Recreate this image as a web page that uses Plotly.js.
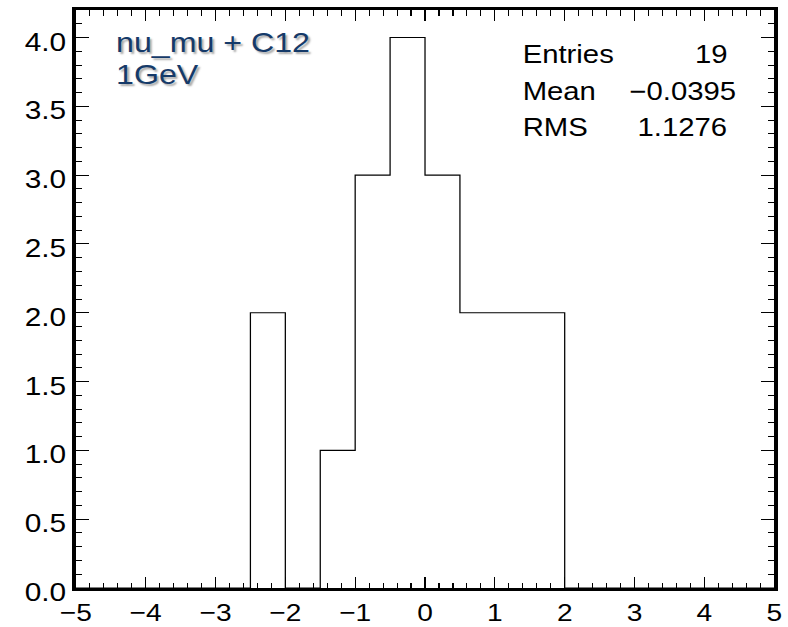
<!DOCTYPE html>
<html>
<head>
<meta charset="utf-8">
<script src="https://cdn.plot.ly/plotly-3.0.1.min.js"></script>
<style>
  html, body { margin: 0; padding: 0; background: #ffffff; overflow: hidden; }
  /* canvas drawn narrower, then stretched horizontally to the final 788 px width */
  #plot { width: 686px; height: 627px; transform: scaleX(1.148688); transform-origin: 0 0; }
</style>
</head>
<body>
<div id="plot"></div>
<script>
// Histogram binning: 20 bins of width 0.5 over [-5, 5]
const binLow = -5;
const binWidth = 0.5;
const counts = [0, 0, 0, 0, 0, 2, 0, 1, 3, 4, 3, 2, 2, 2, 0, 0, 0, 0, 0, 0];

// Statistics box
const statLabels = ["Entries", "Mean", "RMS"];
const statValues = ["19", "\u22120.0395", "1.1276"];

// Label in the upper-left corner
const labelLines = ["nu_mu + C12", "1GeV"];

// Step outline: each bin edge paired with the bin's content (hv shape)
const edges = [];
const steps = [];
for (let i = 0; i < counts.length; i++) {
  edges.push(binLow + i * binWidth);
  steps.push(counts[i]);
}
edges.push(binLow + counts.length * binWidth);
steps.push(counts[counts.length - 1]);

const W0 = 686, H = 627;
const K = 788 / W0;                 // horizontal stretch applied by CSS
const frameL = 76, frameR = 774.7;  // final pixel positions of the frame
const frameT = 10, frameB = 587.7;
const font = "Liberation Sans, Arial, Helvetica, sans-serif";

// helpers: final pixel position -> paper fraction
const px = x => (x - frameL) / (frameR - frameL);
const py = y => 1 - (y - frameT) / (frameB - frameT);

const trace = {
  x: edges,
  y: steps,
  type: "scatter",
  mode: "lines",
  line: { shape: "hv", color: "#000000", width: 1.1 },
  hoverinfo: "skip",
  showlegend: false
};

const annotations = [];
const statRowY = [54, 91, 127];
const statValueRight = [730, 739, 730];
statLabels.forEach((t, i) => {
  annotations.push({
    xref: "paper", yref: "paper",
    x: px(521), y: py(statRowY[i]),
    xanchor: "left", yanchor: "middle",
    text: t, showarrow: false,
    font: { family: font, size: 25.5, color: "#000000" }
  });
  annotations.push({
    xref: "paper", yref: "paper",
    x: px(statValueRight[i]), y: py(statRowY[i]),
    xanchor: "right", yanchor: "middle",
    text: statValues[i], showarrow: false,
    font: { family: font, size: 25.5, color: "#000000" }
  });
});
const labelRowY = [42, 74];
labelLines.forEach((t, i) => {
  annotations.push({
    xref: "paper", yref: "paper",
    x: px(114), y: py(labelRowY[i]),
    xanchor: "left", yanchor: "middle",
    text: t, showarrow: false,
    font: { family: font, size: 28, color: "#153a69", shadow: "2px 2px 2px #a8a8a8" }
  });
});

const layout = {
  width: W0, height: H,
  margin: { l: frameL / K, r: W0 - frameR / K, t: frameT, b: H - frameB, pad: 0 },
  paper_bgcolor: "#ffffff",
  plot_bgcolor: "#ffffff",
  showlegend: false,
  xaxis: {
    range: [-5, 5],
    tickmode: "linear", tick0: -5, dtick: 1,
    ticks: "inside", ticklen: 11, tickwidth: 1, tickcolor: "#000000",
    minor: { dtick: 0.2, ticks: "inside", ticklen: 5.5, tickwidth: 1, tickcolor: "#000000", showgrid: false },
    showline: true, linewidth: 3.2, linecolor: "#000000", mirror: "allticks",
    showgrid: false, zeroline: false,
    tickfont: { family: font, size: 24.5, color: "#000000" },
    ticklabelstandoff: 0
  },
  yaxis: {
    range: [0, 4.2],
    tickmode: "linear", tick0: 0, dtick: 0.5,
    ticks: "inside", ticklen: 13 / K, tickwidth: 1, tickcolor: "#000000",
    minor: { dtick: 0.1, ticks: "inside", ticklen: 6.5 / K, tickwidth: 1, tickcolor: "#000000", showgrid: false },
    showline: true, linewidth: 3.2, linecolor: "#000000", mirror: "allticks",
    showgrid: false, zeroline: false,
    tickformat: ".1f",
    tickfont: { family: font, size: 26, color: "#000000" },
    ticklabelstandoff: 2.5,
    ticklabelshift: 4
  },
  annotations: annotations
};

Plotly.newPlot("plot", [trace], layout, { displayModeBar: false, staticPlot: true });
</script>
</body>
</html>
